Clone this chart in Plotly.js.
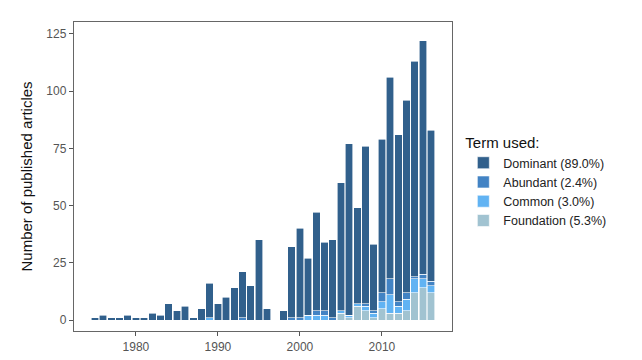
<!DOCTYPE html>
<html>
<head>
<meta charset="utf-8">
<script src="https://cdn.plot.ly/plotly-3.0.1.min.js"></script>
<style>html,body{margin:0;padding:0;background:#fff;}#chart{width:642px;height:360px;}</style>
</head>
<body>
<div id="chart"></div>
<script>
var years = [1975,1976,1977,1978,1979,1980,1981,1982,1983,1984,1985,1986,1987,1988,1989,1990,1991,1992,1993,1994,1995,1996,1997,1998,1999,2000,2001,2002,2003,2004,2005,2006,2007,2008,2009,2010,2011,2012,2013,2014,2015,2016];
var totals = [1,2,1,1,2,1,1,3,2,7,4,6,1,5,16,7,10,14,21,15,35,5,0,4,32,40,27,47,34,35,60,77,49,76,33,79,106,81,96,113,122,83];
var foundation = [0,0,0,0,0,0,0,0,0,0,0,0,0,0,0,0,0,0,0,0,0,0,0,0,0,0,0,0,0,0,3,1,6,4,1,5,3,3,4,12,14,12];
var common = [0,0,0,0,0,0,0,0,0,0,0,0,0,0,1,0,0,0,0,0,0,0,0,0,0,0,2,2,2,0,1,1,1,2,2,3,8,3,5,6,4,3];
var abundant = [0,0,0,0,0,0,0,0,0,0,0,0,0,0,0,0,0,0,1,0,0,0,0,0,1,1,0,2,2,1,0,0,0,1,1,4,7,2,3,1,2,2];
var dominant = totals.map(function(t,i){return t - foundation[i] - common[i] - abundant[i];});
var labels = ["Dominant (89.0%)","Abundant (2.4%)","Common (3.0%)","Foundation (5.3%)"];
var colors = ["#31608c","#4283c4","#61b3f3","#a1c3d1"];

function tr(y, name, color){
  return {type:"bar", x:years, y:y, name:name,
    marker:{color:color, line:{color:"#ffffff", width:0.6}},
    hoverinfo:"x+y+name"};
}
var data = [
  tr(foundation, labels[3], colors[3]),
  tr(common, labels[2], colors[2]),
  tr(abundant, labels[1], colors[1]),
  tr(dominant, labels[0], colors[0])
];
var axFont = {family:"Liberation Sans, Arial, sans-serif", size:12, color:"#555555"};
var layout = {
  width:642, height:360,
  margin:{l:74, r:190, t:22, b:29, pad:0},
  paper_bgcolor:"#ffffff", plot_bgcolor:"#ffffff",
  barmode:"stack", bargap:0.08,
  font:{family:"Liberation Sans, Arial, sans-serif"},
  xaxis:{range:[1972.45,2018.55], tickvals:[1980,1990,2000,2010], ticktext:["1980","1990","2000","2010"],
    ticks:"outside", ticklen:4, tickcolor:"#555555", tickfont:axFont,
    showline:true, mirror:true, linecolor:"#666666", linewidth:1.2, showgrid:false, zeroline:false},
  yaxis:{range:[-4.8,130.2], tickvals:[0,25,50,75,100,125],
    ticks:"outside", ticklen:4, tickcolor:"#555555", tickfont:axFont,
    showline:true, mirror:true, linecolor:"#666666", linewidth:1.2, showgrid:false, zeroline:false,
    title:{text:"Number of published articles", font:{size:15, color:"#111111"}, standoff:10}},
  legend:{x:1.03, xanchor:"left", y:0.655, yanchor:"top", traceorder:"reversed",
    title:{text:"Term used:", font:{size:15, color:"#111111"}},
    font:{size:12.5, color:"#222222"}, tracegroupgap:0, itemwidth:30, bgcolor:"rgba(0,0,0,0)"}
};
Plotly.newPlot("chart", data, layout, {displayModeBar:false, staticPlot:true});
</script>
</body>
</html>
